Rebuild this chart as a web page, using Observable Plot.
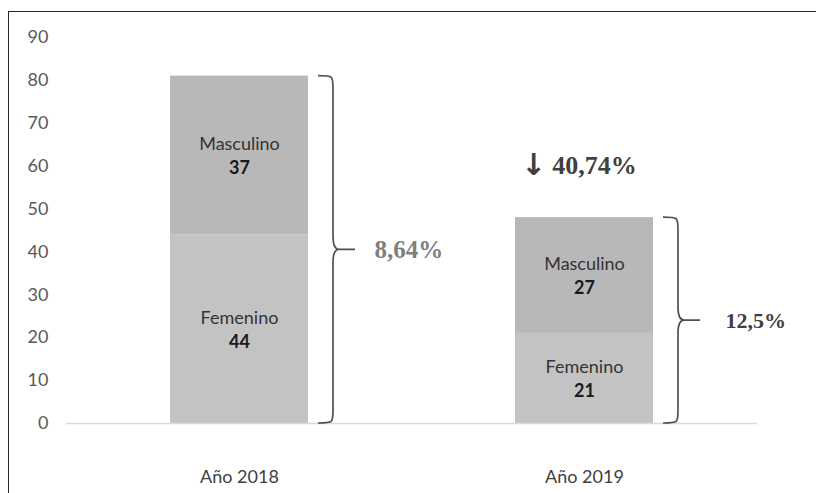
<!DOCTYPE html>
<html>
<head>
<meta charset="utf-8">
<script src="https://cdn.jsdelivr.net/npm/d3@7"></script>
<script src="https://cdn.jsdelivr.net/npm/@observablehq/plot@0.6"></script>
<style>
  html, body { margin: 0; padding: 0; background: #fff; }
  #wrap { position: relative; width: 816px; height: 493px; overflow: hidden; }
  #frame { position: absolute; left: 8px; top: 11px; right: -10px; bottom: -10px;
           border-top: 1.5px solid #262626; border-left: 1.5px solid #262626; pointer-events: none; }
  #chart { position: absolute; left: 0; top: 0; }
</style>
</head>
<body>
<div id="wrap"><div id="chart"></div><div id="frame"></div></div>
<script>
// ---- data ----
const years = ["Año 2018", "Año 2019"];
const sexes = ["Femenino", "Masculino"];
const femenino = [44, 21];
const masculino = [37, 27];
const yTicks = [0, 10, 20, 30, 40, 50, 60, 70, 80, 90];
const braceLabels = ["8,64%", "12,5%"];
const declineArrow = "↓";
const declineLabel = "40,74%";

// ---- derived tables ----
const rows = [];
years.forEach((year, i) => {
  rows.push({year, sex: sexes[0], value: femenino[i]});
  rows.push({year, sex: sexes[1], value: masculino[i]});
});
const totals = years.map((year, i) => ({year, total: femenino[i] + masculino[i], label: braceLabels[i]}));

const colors = {"Femenino": "#c3c3c3", "Masculino": "#b8b8b8"};

function braces(data) {
  return (index, scales, values, dimensions) => {
    const g = d3.create("svg:g")
      .attr("fill", "none")
      .attr("stroke", "#505050")
      .attr("stroke-width", 1.7);
    const bw = scales.x.bandwidth ? scales.x.bandwidth() : 0;
    for (const d of data) {
      const right = scales.x(d.year) + bw;
      const yt = scales.y(d.total), yb = scales.y(0), ym = (yt + yb) / 2;
      const x0 = right + 10, x1 = right + 25, tip = right + 47;
      const r = 13;
      const p = d3.path();
      p.moveTo(x0, yt);
      p.bezierCurveTo(x1, yt, x1, yt, x1, yt + r);
      p.lineTo(x1, ym - r);
      p.bezierCurveTo(x1, ym - 3, x1 + 2, ym, x1 + 6, ym);
      p.lineTo(tip, ym);
      p.moveTo(x1 + 6, ym);
      p.bezierCurveTo(x1 + 2, ym, x1, ym + 3, x1, ym + r);
      p.lineTo(x1, yb - r);
      p.bezierCurveTo(x1, yb, x1, yb, x0, yb);
      g.append("path").attr("d", p.toString());
    }
    return g.node();
  };
}

const chart = Plot.plot({
  width: 816,
  height: 493,
  marginLeft: 66,
  marginRight: 59,
  marginTop: 37,
  marginBottom: 70,
  style: {fontFamily: "Lato, sans-serif", background: "transparent", overflow: "visible"},
  x: {domain: years, paddingInner: 0.6, paddingOuter: 0.3, label: null},
  y: {domain: [0, 90], label: null},
  marks: [
    Plot.axisY({ticks: yTicks, tickSize: 0, tickPadding: 18, fontSize: 18, fill: "#595959", label: null}),
    Plot.axisX({tickSize: 0, tickPadding: 47, fontSize: 18, fill: "#404040", label: null}),
    Plot.barY(rows, Plot.stackY({x: "year", y: "value", fill: d => colors[d.sex]})),
    Plot.ruleY([0], {stroke: "#d9d9d9", strokeWidth: 1.5}),
    Plot.text(rows, Plot.stackY({x: "year", y: "value", text: "sex", dy: -11, fontSize: 18, fill: "#333333"})),
    Plot.text(rows, Plot.stackY({x: "year", y: "value", text: d => String(d.value), dy: 13, fontSize: 18, fontWeight: "bold", fill: "#1a1a1a"})),
    braces(totals),
    Plot.text([totals[0]], {x: "year", y: d => d.total / 2, text: "label", dx: 135, textAnchor: "start",
      fontFamily: "Liberation Serif", fontSize: 25, fontWeight: "bold", fill: "#7f7f7f"}),
    Plot.text([totals[1]], {x: "year", y: d => d.total / 2, text: "label", dx: 141, textAnchor: "start",
      fontFamily: "Liberation Serif", fontSize: 22, fontWeight: "bold", fill: "#404040"}),
    Plot.text([totals[1]], {x: "year", y: "total", text: () => declineLabel, dy: -52, dx: 10,
      fontFamily: "Liberation Serif", fontSize: 26, fontWeight: "bold", fill: "#404040"}),
    Plot.text([totals[1]], {x: "year", y: "total", text: () => declineArrow, dy: -52, dx: -51,
      fontFamily: "DejaVu Sans", fontSize: 30, fontWeight: "bold", fill: "#404040"})
  ]
});
document.getElementById("chart").append(chart);
</script>
</body>
</html>
